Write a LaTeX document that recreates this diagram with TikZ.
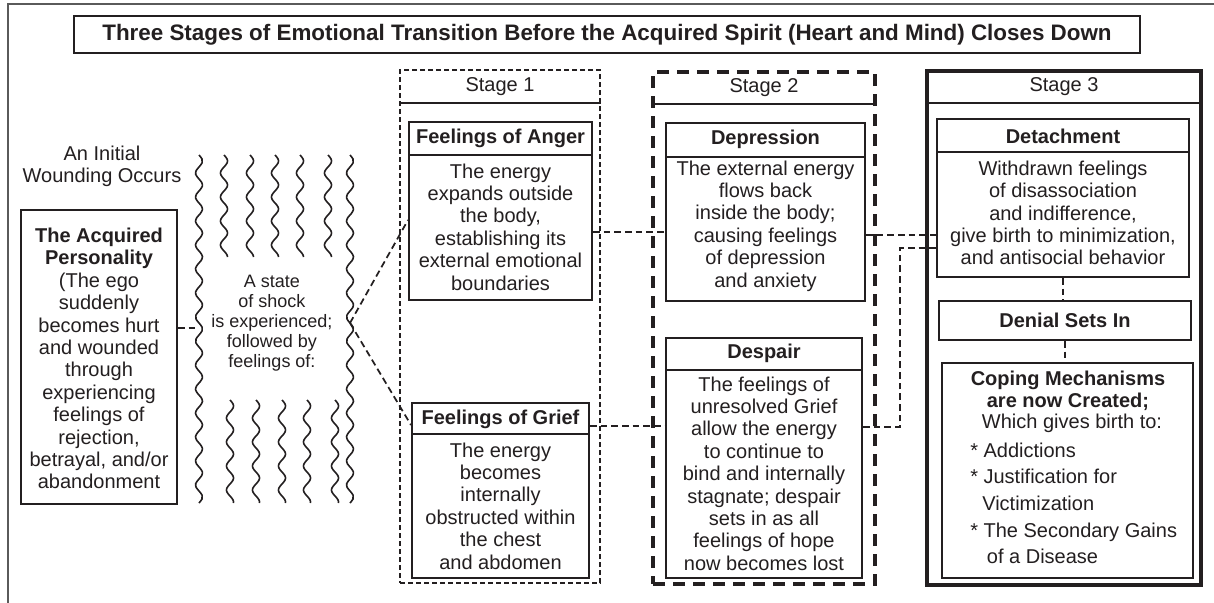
\documentclass[tikz,border=0pt]{standalone}
\usepackage{fontspec}
\setmainfont{Liberation Sans}
\usetikzlibrary{fit}
\definecolor{ink}{HTML}{231F20}
\definecolor{framegray}{HTML}{5A5A5A}
\begin{document}
\begin{tikzpicture}[x=0.75pt, y=-0.75pt,
  every node/.style={text=ink, inner sep=0pt},
  body/.style={font=\fontsize{15}{16.8}\selectfont, align=center},
  bodyb/.style={font=\fontsize{15}{16.8}\selectfont\bfseries, align=center},
  note/.style={font=\fontsize{13.5}{15}\selectfont, align=center},
  panel/.style={draw=ink, line width=1.5pt, inner sep=0pt},
  rule/.style={draw=ink, line width=1.5pt},
  stageA/.style={draw=ink, line width=1.1pt, dash pattern=on 3.75pt off 2.25pt, inner sep=0pt},
  stageB/.style={draw=ink, line width=3pt, dash pattern=on 9pt off 6pt, inner sep=0pt},
  stageC/.style={draw=ink, line width=3pt, inner sep=0pt},
  link/.style={draw=ink, line width=1.3pt, dash pattern=on 5pt off 3pt},
  wave/.style={draw=ink, line width=1.2pt},
]
\useasboundingbox (0,0) rectangle (1214,603);
\fill[white] (0,0) rectangle (1214,603);

% outer frame (top and left edges)
\draw[framegray, line width=1.5pt] (8,603) -- (8,4) -- (1214,4);

% title
\node[draw=ink, line width=1.5pt, font=\fontsize{16.8}{19}\selectfont\bfseries,
      inner xsep=21pt, minimum height=27.75pt] (title) at (607,34.5)
  {Three Stages of Emotional Transition Before the Acquired Spirit (Heart and Mind) Closes Down};

% stage frames
\node[stageA, fit={(400,70) (600,583)}] (s1) {};
\node[stageB, fit={(653,72) (875,584)}] (s2) {};
\node[stageC, fit={(927,71) (1201,585)}] (s3) {};
\draw[rule] (s1.west |- 0,103) -- (s1.east |- 0,103);
\draw[rule] (s2.west |- 0,104) -- (s2.east |- 0,104);
\draw[rule] (s3.west |- 0,103) -- (s3.east |- 0,103);
\node[body] (s1lab) at (500,87) {Stage 1};
\node[body] (s2lab) at (764,88) {Stage 2};
\node[body] (s3lab) at (1064,87) {Stage 3};

% left column
\node[body] (wound) at (102,166.5) {An Initial\\Wounding Occurs};
\node[panel, fit={(21,210) (177,504)}] (pers) {};
\node[body] (perstext) at (99,358.5) {\textbf{The Acquired}\\\textbf{Personality}\\(The ego\\suddenly\\becomes hurt\\and wounded\\through\\experiencing\\feelings of\\rejection,\\betrayal, and/or\\abandonment};

% shock waves
\foreach \wx/\ya/\yb in {199/155/503, 350/155/503,
    224/155/257, 250/155/257, 275/155/257, 300/155/257, 328/155/257,
    230/400/503, 256/400/503, 282/400/503, 307/400/503, 335/400/503}
  \draw[wave] plot[variable=\t, domain=\ya:\yb, samples=90, smooth]
    ({\wx+3.5*sin(15*(\t-\ya))}, {\t});
\node[note] (shock) at (272,323.5) {A state\\of shock\\is experienced;\\followed by\\feelings of:};

% stage 1 panels
\node[panel, fit={(409,122) (592,300)}] (anger) {};
\draw[rule] (anger.west |- 0,155) -- (anger.east |- 0,155);
\node[bodyb] (angerhd) at (500.5,138.5) {Feelings of Anger};
\node[body] (angertx) at (500.5,227) {The energy\\expands outside\\the body,\\establishing its\\external emotional\\boundaries};

\node[panel, fit={(412,403) (589,578)}] (grief) {};
\draw[rule] (grief.west |- 0,434) -- (grief.east |- 0,434);
\node[bodyb] (griefhd) at (500.5,419) {Feelings of Grief};
\node[body] (grieftx) at (500.5,506) {The energy\\becomes\\internally\\obstructed within\\the chest\\and abdomen};

% stage 2 panels
\node[panel, fit={(666,123) (865,301)}] (depr) {};
\draw[rule] (depr.west |- 0,157) -- (depr.east |- 0,157);
\node[bodyb] (deprhd) at (765.5,139) {Depression};
\node[body] (deprtx) at (765.5,226) {The external energy\\flows back\\inside the body;\\causing feelings\\of depression\\and anxiety};

\node[panel, fit={(666,338) (862,578)}] (desp) {};
\draw[rule] (desp.west |- 0,370) -- (desp.east |- 0,370);
\node[bodyb] (desphd) at (764,353) {Despair};
\node[body] (desptx) at (764,473.5) {The feelings of\\unresolved Grief\\allow the energy\\to continue to\\bind and internally\\stagnate; despair\\sets in as all\\feelings of hope\\now becomes lost};

% stage 3 panels
\node[panel, fit={(937,119) (1189,277)}] (detach) {};
\draw[rule] (detach.west |- 0,152) -- (detach.east |- 0,152);
\node[bodyb] (detachhd) at (1063,136) {Detachment};
\node[body] (detachtx) at (1063,213) {Withdrawn feelings\\of disassociation\\and indifference,\\give birth to minimization,\\and antisocial behavior};

\node[panel, fit={(939,301) (1191,340)}] (denial) {};
\node[bodyb] (denialtx) at (1065,320.5) {Denial Sets In};

\node[panel, fit={(942,363) (1193,578)}] (coping) {};
\node[bodyb] (copinghd) at (1068,390.5) {Coping Mechanisms\\are now Created;};
\node[body] (copingsub) at (1072,423) {Which gives birth to:};
\node[body, align=left, anchor=west, font=\fontsize{15}{20}\selectfont] (copinglist) at (970,503.5)
  {* Addictions\\* Justification for\\\hspace{9pt}Victimization\\* The Secondary Gains\\\hspace{12.5pt}of a Disease};

% connectors
\coordinate (wl) at (199,328);
\draw[link] (pers.east |- wl) -- (wl);
\coordinate (fork) at (350,323);
\draw[link] (fork) -- (anger.west |- 0,220);
\draw[link] (fork) -- (grief.west |- 0,425);
\draw[link] (anger.east |- 0,232) -- (depr.west |- 0,232);
\draw[link] (grief.east |- 0,426) -- (desp.west |- 0,426);
\draw[link] (depr.east |- 0,235) -- (detach.west |- 0,235);
\coordinate (bend) at (900,248);
\draw[link] (desp.east |- 0,427) -| (bend) -- (detach.west |- bend);
\draw[link] (detach.south -| 1063,0) -- (denial.north -| 1063,0);
\draw[link] (denial.south -| 1065,0) -- (coping.north -| 1065,0);
\end{tikzpicture}
\end{document}
